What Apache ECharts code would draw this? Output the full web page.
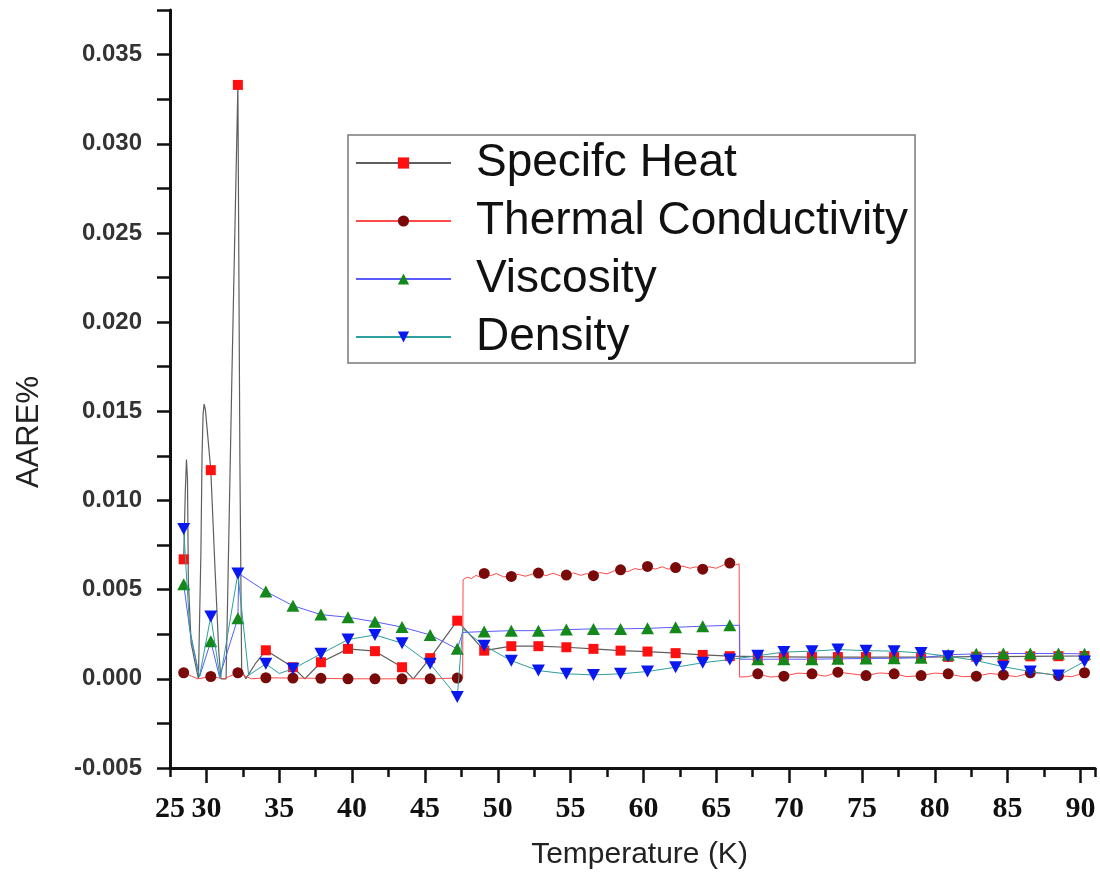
<!DOCTYPE html>
<html>
<head>
<meta charset="utf-8">
<script src="https://cdn.jsdelivr.net/npm/echarts@6/dist/echarts.min.js"></script>
<style>html,body{margin:0;padding:0;background:#fff;}#chart{width:1100px;height:882px;}</style>
</head>
<body>
<div id="chart"></div>
<script>
// Temperatures (K) of the plotted markers
const tempK = [28.44, 30.30, 32.16, 34.08, 35.94, 37.86, 39.72, 41.57, 43.43, 45.36, 47.22,
  49.07, 50.93, 52.79, 54.71, 56.57, 58.43, 60.28, 62.21, 64.07, 65.93,
  67.85, 69.64, 71.57, 73.35, 75.28, 77.21, 79.06, 80.92, 82.85, 84.71, 86.56, 88.49, 90.28];

const specificHeat = [0.0067, 0.0117, 0.0333, 0.0016, 0.00065, 0.00093, 0.00168, 0.00155, 0.00065, 0.00116, 0.00326,
  0.00158, 0.00183, 0.00183, 0.00177, 0.00168, 0.00158, 0.00153, 0.00144, 0.00134, 0.00127,
  0.00124, 0.00123, 0.00122, 0.00122, 0.00122, 0.00122, 0.00122, 0.00123, 0.00124, 0.00125, 0.00126, 0.00127, 0.00128];

const thermalCond = [0.00034, 0.00013, 0.00034, 0.00006, 0.00004, 0.00003, 0.0, 0.0, 0.0, 0.0, 0.00004,
  0.00591, 0.00574, 0.00593, 0.00582, 0.00578, 0.00611, 0.0063, 0.00624, 0.00615, 0.00649,
  0.00028, 0.00015, 0.00028, 0.00037, 0.00018, 0.00028, 0.00018, 0.00028, 0.00015, 0.00022, 0.00034, 0.00018, 0.00034];

const viscosity = [0.0053, 0.0021, 0.0034, 0.0049, 0.0041, 0.0036, 0.00345, 0.0032, 0.0029, 0.00246, 0.00168,
  0.00265, 0.0027, 0.0027, 0.00276, 0.0028, 0.0028, 0.00283, 0.00289, 0.00295, 0.003,
  0.0011, 0.0011, 0.0011, 0.00112, 0.00114, 0.00115, 0.00118, 0.00135, 0.0014, 0.00142, 0.00142, 0.00142, 0.0014];

const density = [0.0084, 0.0035, 0.0059, 0.00084, 0.00056, 0.0014, 0.0022, 0.00246, 0.002, 0.00084, -0.00102,
  0.00186, 0.00102, 0.00046, 0.00028, 0.00022, 0.00028, 0.00041, 0.00065, 0.0009, 0.00108,
  0.0013, 0.0015, 0.00155, 0.00164, 0.00158, 0.00155, 0.00145, 0.00127, 0.00102, 0.00068, 0.00041, 0.00018, 0.00097];

// Extra (unmarked) points of the connecting curves
const specificHeatCurve = [[28.55, 0.0105], [28.63, 0.0123], [28.70, 0.0112], [28.76, 0.0055], [28.95, 0.002], [29.45, 0.0],
  [29.62, 0.007], [29.70, 0.0125], [29.77, 0.0148], [29.84, 0.0154], [29.93, 0.0151], [30.05, 0.014],
  [30.6, 0.006], [30.85, 0.0015], [31.0, 0.0], [31.35, 0.0], [31.75, 0.017],
  [32.3, 0.012], [32.42, 0.0005], [32.7, 0.0], [33.4, 0.0009], [36.76, 0.0], [44.2, 0.0]];

const thermalCondCurve = [[29.4, 0.0], [31.2, 0.0], [33.1, 0.0],
  [47.59, 0.00003], [47.62, 0.00556], [47.9, 0.0057], [48.2, 0.00562], [48.5, 0.0058], [48.8, 0.0057],
  [49.5, 0.00578], [49.9, 0.0059], [50.4, 0.00572], [51.4, 0.00586], [51.9, 0.00575], [52.4, 0.00588],
  [53.3, 0.00578], [53.8, 0.00592], [54.3, 0.00577], [55.2, 0.00594], [55.7, 0.0058], [56.1, 0.0059],
  [57.0, 0.00596], [57.5, 0.00588], [58.0, 0.00606], [58.9, 0.006], [59.4, 0.00618], [59.8, 0.00612],
  [60.8, 0.00615], [61.3, 0.00628], [61.7, 0.00615], [62.7, 0.00632], [63.2, 0.0062], [63.6, 0.00628],
  [64.5, 0.00628], [65.0, 0.0062], [65.5, 0.00638], [66.3, 0.00638], [66.57, 0.00645], [66.6, 0.0001],
  [67.2, 0.00012], [68.7, 0.0001], [70.6, 0.00032], [72.5, 0.00015], [74.3, 0.00028], [76.2, 0.00033],
  [78.1, 0.00012], [80.0, 0.00032], [81.9, 0.00012], [83.8, 0.0003], [85.6, 0.00012], [87.5, 0.0003], [89.4, 0.00012]];

const viscosityCurve = [[28.9, 0.0025], [29.52, 0.0001], [30.9, 0.0001], [32.22, 0.0059],
  [47.59, 0.0026], [66.6, 0.003], [66.62, 0.0011]];

const densityCurve = [[28.85, 0.0028], [29.52, 0.0001], [30.95, 0.0], [32.9, 0.0002], [35.0, 0.0003], [47.59, 0.0028]];

// Tick labels
const xLabelValues = [27.5, 30, 35, 40, 45, 50, 55, 60, 65, 70, 75, 80, 85, 90];
const xLabelTexts = ['25', '30', '35', '40', '45', '50', '55', '60', '65', '70', '75', '80', '85', '90'];
const xMajorTicks = [30, 35, 40, 45, 50, 55, 60, 65, 70, 75, 80, 85, 90];
const yLabelValues = [-0.005, 0, 0.005, 0.01, 0.015, 0.02, 0.025, 0.03, 0.035];
const yLabelTexts = ['-0.005', '0.000', '0.005', '0.010', '0.015', '0.020', '0.025', '0.030', '0.035'];

function build(marks, extras) {
  const pts = tempK.map((t, i) => ({ value: [t, marks[i]] }));
  extras.forEach(p => pts.push({ value: p, symbol: 'none' }));
  pts.sort((a, b) => a.value[0] - b.value[0]);
  return pts;
}
function nearestLabel(v, vals, texts) {
  let best = -1, d = Infinity;
  vals.forEach((x, i) => { const dd = Math.abs(x - v); if (dd < d) { d = dd; best = i; } });
  return d < 1e-6 ? texts[best] : '';
}

const downTri = 'path://M0,0 L10,0 L5,9 Z';
const chart = echarts.init(document.getElementById('chart'), null, { renderer: 'canvas' });

chart.setOption({
  backgroundColor: '#ffffff',
  animation: false,
  grid: { left: 170, right: 5, top: 10, bottom: 114 },
  graphic: [{
    type: 'text', left: 14, top: 376, rotation: Math.PI / 2,
    style: { text: 'AARE%', font: '31px "Liberation Sans", Arial, sans-serif', fill: '#222' }
  }],
  legend: {
    orient: 'vertical',
    left: 348, top: 135,
    padding: [3, 7, 1, 7],
    borderColor: '#7a7a7a', borderWidth: 1.5,
    backgroundColor: '#ffffff',
    itemWidth: 95, itemHeight: 14, itemGap: 8,
    textStyle: { fontFamily: 'Liberation Sans, Arial, sans-serif', fontSize: 46, color: '#111', lineHeight: 50, padding: [0, 0, 0, 20] },
    data: ['Specifc Heat', 'Thermal Conductivity', 'Viscosity', 'Density']
  },
  xAxis: [{
    type: 'value', min: 27.5, max: 91, interval: 2.5,
    name: 'Temperature (K)', nameLocation: 'middle', nameGap: 72,
    nameTextStyle: { fontFamily: 'Liberation Sans, Arial, sans-serif', fontSize: 30, color: '#222', padding: [0, 0, 0, 14] },
    axisLine: { onZero: false, lineStyle: { color: '#111', width: 3 } },
    axisTick: { show: true, inside: false, length: 9, lineStyle: { color: '#111', width: 2.5 } },
    axisLabel: {
      customValues: xLabelValues, margin: 26,
      fontFamily: 'Liberation Serif, Times New Roman, serif', fontWeight: 'bold', fontSize: 30, color: '#111',
      formatter: v => nearestLabel(v, xLabelValues, xLabelTexts)
    },
    splitLine: { show: false }
  }, {
    type: 'value', min: 27.5, max: 91, position: 'bottom', gridIndex: 0,
    axisLine: { show: false, onZero: false },
    axisTick: { show: true, customValues: xMajorTicks, length: 15, lineStyle: { color: '#111', width: 2.5 } },
    axisLabel: { show: false },
    splitLine: { show: false }
  }],
  yAxis: {
    type: 'value', min: -0.005, max: 0.0375, interval: 0.0025,
    axisLine: { show: true, onZero: false, lineStyle: { color: '#111', width: 3 } },
    axisTick: { show: true, length: 13, lineStyle: { color: '#111', width: 2.5 } },
    axisLabel: {
      customValues: yLabelValues, margin: 28,
      fontFamily: 'Liberation Sans, Arial, sans-serif', fontWeight: 'bold', fontSize: 24, color: '#333',
      formatter: v => nearestLabel(v, yLabelValues, yLabelTexts)
    },
    splitLine: { show: false }
  },
  series: [{
    name: 'Specifc Heat', type: 'line', showAllSymbol: true,
    symbol: 'rect', symbolSize: 10,
    itemStyle: { color: '#ff1010' },
    lineStyle: { color: '#5e5e5e', width: 1.2 },
    data: build(specificHeat, specificHeatCurve), z: 2
  }, {
    name: 'Thermal Conductivity', type: 'line', showAllSymbol: true,
    symbol: 'circle', symbolSize: 11,
    itemStyle: { color: '#7a0a0a' },
    lineStyle: { color: '#ff4a4a', width: 1 },
    data: build(thermalCond, thermalCondCurve), z: 3
  }, {
    name: 'Viscosity', type: 'line', showAllSymbol: true,
    symbol: 'triangle', symbolSize: [13, 12],
    itemStyle: { color: '#14881a' },
    lineStyle: { color: '#5a5aff', width: 1 },
    data: build(viscosity, viscosityCurve), z: 4
  }, {
    name: 'Density', type: 'line', showAllSymbol: true,
    symbol: downTri, symbolSize: [13, 12],
    itemStyle: { color: '#0a18f0' },
    lineStyle: { color: '#2e9e9e', width: 1 },
    data: build(density, densityCurve), z: 5
  }]
});
</script>
</body>
</html>
